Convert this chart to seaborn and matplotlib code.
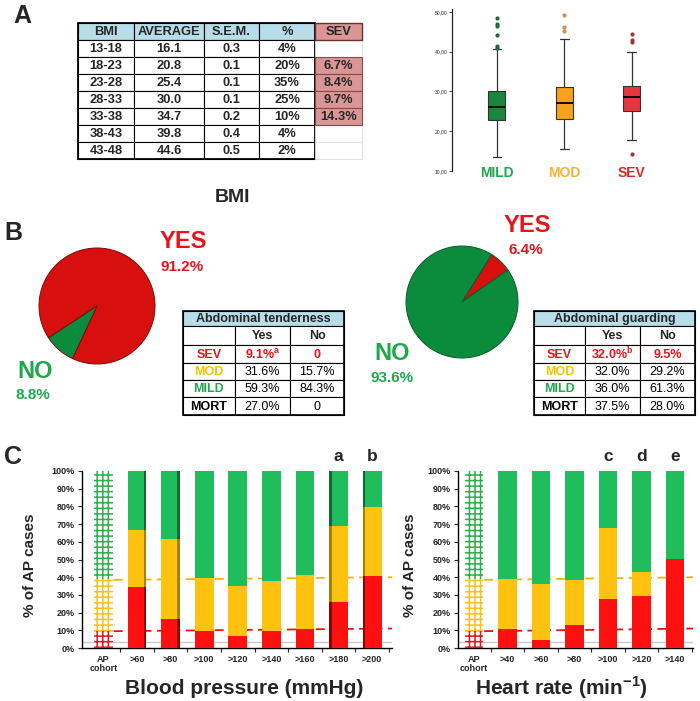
import numpy as np
import pandas as pd
import matplotlib
matplotlib.use('Agg')
import matplotlib.pyplot as plt
from matplotlib.patches import Rectangle
import seaborn as sns

sns.set_style('white')
plt.rcParams['font.family'] = ['Liberation Sans', 'DejaVu Sans']
plt.rcParams['mathtext.fontset'] = 'custom'
plt.rcParams['mathtext.rm'] = 'Liberation Sans'
plt.rcParams['mathtext.bf'] = 'Liberation Sans:bold'
plt.rcParams['hatch.linewidth'] = 1.1

# ---- panel A: BMI table ----
bmi_head = ['BMI', 'AVERAGE', 'S.E.M.', '%', 'SEV']
bmi_ranges = ['13-18', '18-23', '23-28', '28-33', '33-38', '38-43', '43-48']
bmi_average = ['16.1', '20.8', '25.4', '30.0', '34.7', '39.8', '44.6']
bmi_sem = ['0.3', '0.1', '0.1', '0.1', '0.2', '0.4', '0.5']
bmi_pct = ['4%', '20%', '35%', '25%', '10%', '4%', '2%']
bmi_sev = ['', '6.7%', '8.4%', '9.7%', '14.3%', '', '']

# ---- panel A: BMI boxplots ----
box_groups = ['MILD', 'MOD', 'SEV']
box_whislo = [13.5, 15.6, 17.7]
box_q1 = [22.9, 23.2, 25.0]
box_med = [26.1, 27.2, 28.7]
box_q3 = [30.1, 31.1, 31.3]
box_whishi = [40.6, 43.2, 39.9]
box_fliers = [[41.0, 41.5, 44.3, 46.4, 47.1, 48.4],
              [45.2, 46.2, 49.2],
              [14.4, 42.5, 43.0, 44.4]]

# ---- panel B: pies + tables ----
tender_share = [91.2, 8.8]   # YES, NO
guard_share = [6.4, 93.6]    # YES, NO
sev_rows = ['SEV', 'MOD', 'MILD', 'MORT']
tender_yes = ['9.1%$^{\\mathbf{a}}$', '31.6%', '59.3%', '27.0%']
tender_no = ['0', '15.7%', '84.3%', '0']
guard_yes = ['32.0%$^{\\mathbf{b}}$', '32.0%', '36.0%', '37.5%']
guard_no = ['9.5%', '29.2%', '61.3%', '28.0%']

# ---- panel C: stacked bars ----
bp_cats = ['AP\ncohort', '>60', '>80', '>100', '>120', '>140', '>160', '>180', '>200']
bp_sev = [9.5, 34.2, 16.5, 9.4, 6.6, 9.8, 10.5, 25.9, 40.4]
bp_mod = [29.5, 32.5, 45.1, 30.4, 28.2, 27.8, 30.9, 43.1, 39.5]
bp_mild = [61.0, 33.3, 38.4, 60.2, 65.2, 62.4, 58.6, 31.0, 20.1]
bp_marks = ['', '', '', '', '', '', '', 'a', 'b']
bp_ref_sev = [9.5, 11.0]
bp_ref_mod = [38.5, 40.0]
bp_side = ['', 'r', 'r', '', '', '', '', 'l', 'l']   # visible 3D side of each bar

hr_cats = ['AP\ncohort', '>40', '>60', '>80', '>100', '>120', '>140']
hr_sev = [9.5, 10.7, 4.7, 12.8, 27.6, 29.1, 50.2]
hr_mod = [29.5, 28.4, 31.6, 25.7, 40.1, 14.1, 0.0]
hr_mild = [61.0, 60.9, 63.7, 61.5, 32.3, 56.8, 49.8]
hr_marks = ['', '', '', '', 'c', 'd', 'e']
hr_ref_sev = [9.5, 11.0]
hr_ref_mod = [38.5, 40.0]
hr_side = ['', '', '', '', '', '', '']

RED = '#ff1010'
YEL = '#ffc20e'
GRN = '#1fbd5c'
TXT_RED = '#e8141c'
TXT_YEL = '#f5c400'
TXT_GRN = '#1fa84a'
BLUE_HEAD = '#b7dde8'
PINK = '#d99694'

fig = plt.figure(figsize=(7, 7.01), dpi=100)
bg = fig.add_axes([0, 0, 1, 1])
bg.set_xlim(0, 700)
bg.set_ylim(701, 0)
bg.axis('off')


def px_rect(x0, y0, x1, y1):
    return [x0 / 700, 1 - y1 / 701, (x1 - x0) / 700, (y1 - y0) / 701]


def cell(x0, y0, x1, y1, fc='white', ec='black', lw=0.8):
    bg.add_patch(Rectangle((x0, y0), x1 - x0, y1 - y0, facecolor=fc,
                           edgecolor=ec, linewidth=lw))


def ctext(x, y, s, **kw):
    bg.text(x, y, s, ha='center', va='center', **kw)


# panel letters
ctext(22, 16, 'A', fontsize=18, fontweight='bold')
ctext(13, 233, 'B', fontsize=18, fontweight='bold')
ctext(13, 457, 'C', fontsize=18, fontweight='bold')

# ---- table A ----
col_x = [78, 134, 204, 259, 315, 362]
row_y = [23] + list(np.linspace(39.5, 159.2, 8))
body = [bmi_ranges, bmi_average, bmi_sem, bmi_pct]
for j in range(4):
    cell(col_x[j], row_y[0], col_x[j + 1], row_y[1], fc=BLUE_HEAD)
    ctext((col_x[j] + col_x[j + 1]) / 2, (row_y[0] + row_y[1]) / 2 + 0.5,
          bmi_head[j], fontsize=9.3, fontweight='bold')
    for i in range(7):
        cell(col_x[j], row_y[i + 1], col_x[j + 1], row_y[i + 2])
        ctext((col_x[j] + col_x[j + 1]) / 2, (row_y[i + 1] + row_y[i + 2]) / 2 + 0.5,
              body[j][i], fontsize=9.3, fontweight='bold')
bg.add_patch(Rectangle((col_x[0], row_y[0]), col_x[4] - col_x[0], row_y[-1] - row_y[0],
                       fill=False, edgecolor='black', linewidth=1.3))
for i in range(7):
    if bmi_sev[i] == '':
        cell(col_x[4], row_y[i + 1], col_x[5], row_y[i + 2], ec='#dcdcdc', lw=0.6)
for i in range(7):
    if bmi_sev[i] != '':
        cell(col_x[4], row_y[i + 1], col_x[5], row_y[i + 2], fc=PINK, ec='#8a4a4a', lw=0.8)
        ctext((col_x[4] + col_x[5]) / 2, (row_y[i + 1] + row_y[i + 2]) / 2 + 0.5,
              bmi_sev[i], fontsize=9.3, fontweight='bold')
cell(col_x[4], row_y[0], col_x[5], row_y[1], fc=PINK, ec='#6a3030', lw=1.0)
ctext((col_x[4] + col_x[5]) / 2, (row_y[0] + row_y[1]) / 2 + 0.5, bmi_head[4],
      fontsize=9.3, fontweight='bold')
ctext(232, 197, 'BMI', fontsize=14, fontweight='bold')

# ---- boxplot A ----
axb = fig.add_axes(px_rect(452, 9, 672, 171))
stats = [dict(label=g, whislo=wl, q1=a, med=m, q3=b, whishi=wh, fliers=f)
         for g, wl, a, m, b, wh, f in zip(box_groups, box_whislo, box_q1, box_med,
                                          box_q3, box_whishi, box_fliers)]
res = axb.bxp(stats, positions=[1, 2, 3], widths=0.25, capwidths=0.13, patch_artist=True,
              boxprops=dict(edgecolor='#333333', linewidth=0.8),
              medianprops=dict(color='black', linewidth=1.3),
              whiskerprops=dict(color='#333333', linewidth=0.9),
              capprops=dict(color='#333333', linewidth=0.9),
              flierprops=dict(marker='o', markersize=3, markeredgewidth=0))
box_colors = ['#17873e', '#f7a21b', '#e8353b']
flier_colors = ['#1c6b3a', '#c8944a', '#a83232']
label_colors = ['#22a84b', '#f9b233', '#e52329']
for patch, c in zip(res['boxes'], box_colors):
    patch.set_facecolor(c)
for fl, c in zip(res['fliers'], flier_colors):
    fl.set_markerfacecolor(c)
axb.set_xlim(0.333, 3.6)
axb.set_ylim(10, 50.75)
axb.set_xticks([])
yt = [10, 20, 30, 40, 50]
axb.set_yticks(yt)
axb.set_yticklabels([f'{v:.2f}'.replace('.', ',') for v in yt], fontsize=3.6)
axb.tick_params(axis='y', length=2, width=0.6, pad=1, left=True)
sns.despine(ax=axb, bottom=True)
axb.spines['left'].set_linewidth(0.9)
for k, (g, c) in enumerate(zip(box_groups, label_colors)):
    axb.text(k + 1, 9.5, g, ha='center', va='center', color=c, fontsize=10,
             fontweight='bold', clip_on=False)

# ---- pies B ----
def pie(cx, cy, r, shares, start, ec):
    side = 2 * r * 1.03
    ax = fig.add_axes(px_rect(cx - side / 2, cy - side / 2, cx + side / 2, cy + side / 2))
    ax.pie(shares, colors=['#d80f0f', '#0b8c3c'], startangle=start, counterclock=True,
           wedgeprops=dict(edgecolor=ec, linewidth=0.7))
    ax.set_xlim(-1.03, 1.03)
    ax.set_ylim(-1.03, 1.03)
    ax.axis('off')


pie(97, 306, 58, tender_share, 245, '#7a0a0a')
pie(462, 302, 56, guard_share, 35, '#0a5a2a')

ctext(183, 241, 'YES', fontsize=17, fontweight='bold', color=TXT_RED)
ctext(182, 267, f'{tender_share[0]}%', fontsize=11, fontweight='bold', color=TXT_RED)
ctext(35, 372, 'NO', fontsize=17, fontweight='bold', color=TXT_GRN)
ctext(33, 395, f'{tender_share[1]}%', fontsize=11, fontweight='bold', color=TXT_GRN)
ctext(527, 225, 'YES', fontsize=17, fontweight='bold', color=TXT_RED)
ctext(526, 250, f'{guard_share[0]}%', fontsize=11, fontweight='bold', color=TXT_RED)
ctext(392, 353, 'NO', fontsize=17, fontweight='bold', color=TXT_GRN)
ctext(392, 378, f'{guard_share[1]}%', fontsize=11, fontweight='bold', color=TXT_GRN)

# ---- tables B ----
row_cols = [TXT_RED, TXT_YEL, TXT_GRN, 'black']


def sign_table(x_edges, title, yes_vals, no_vals):
    ys = [311, 326, 345, 363, 380, 397, 415]
    cell(x_edges[0], ys[0], x_edges[3], ys[1], fc=BLUE_HEAD)
    ctext((x_edges[0] + x_edges[3]) / 2, (ys[0] + ys[1]) / 2 + 0.5, title,
          fontsize=9, fontweight='bold')
    for j in range(3):
        for i in range(1, 6):
            cell(x_edges[j], ys[i], x_edges[j + 1], ys[i + 1])
    ctext((x_edges[1] + x_edges[2]) / 2, (ys[1] + ys[2]) / 2 + 0.5, 'Yes',
          fontsize=9, fontweight='bold')
    ctext((x_edges[2] + x_edges[3]) / 2, (ys[1] + ys[2]) / 2 + 0.5, 'No',
          fontsize=9, fontweight='bold')
    for i, (lab, c) in enumerate(zip(sev_rows, row_cols)):
        yc = (ys[i + 2] + ys[i + 3]) / 2 + 0.5
        ctext((x_edges[0] + x_edges[1]) / 2, yc, lab, fontsize=9, fontweight='bold', color=c)
        w = 'bold' if i == 0 else 'normal'
        vc = TXT_RED if i == 0 else 'black'
        ctext((x_edges[1] + x_edges[2]) / 2, yc, yes_vals[i], fontsize=9, fontweight=w, color=vc)
        ctext((x_edges[2] + x_edges[3]) / 2, yc, no_vals[i], fontsize=9, fontweight=w, color=vc)
    bg.add_patch(Rectangle((x_edges[0], ys[0]), x_edges[3] - x_edges[0], ys[-1] - ys[0],
                           fill=False, edgecolor='black', linewidth=1.2))


sign_table([183, 235, 290, 344], 'Abdominal tenderness', tender_yes, tender_no)
sign_table([534, 585, 640, 695], 'Abdominal guarding', guard_yes, guard_no)

# ---- panel C ----
dark_of = {GRN: '#0d6a33', YEL: '#a88000', RED: '#8e0000'}


def stacked(rect, xlim, cats, sev, mod, mild, marks, ref_sev, ref_mod, sides):
    ax = fig.add_axes(px_rect(*rect))
    df = pd.DataFrame({'cat': cats, 'sev': sev, 'mod': mod, 'mild': mild})
    df['low'] = df['sev'] + df['mod']
    df['all'] = df['low'] + df['mild']
    n = len(cats)
    layers = [('all', GRN, '#2bb04c'), ('low', YEL, '#f7c21a'), ('sev', RED, '#e8141c')]
    for col, fc, hc in layers:
        sns.barplot(data=df, x='cat', y=col, order=cats, color=fc, width=0.56,
                    saturation=1, errorbar=None, linewidth=0, ax=ax, zorder=3)
        bars = list(ax.patches)[-n:]
        ap = bars[0]
        ap.set_facecolor('white')
        ap.set_hatch('+++')
        ap.set_edgecolor(hc)
        ap.set_linewidth(0)
        # darker side face for the bars seen in perspective
        for b, sd in zip(bars, sides):
            if not sd:
                continue
            sw = 0.08
            x0 = b.get_x() + b.get_width() - sw if sd == 'r' else b.get_x()
            ax.add_patch(Rectangle((x0, 0), sw, b.get_height(), facecolor=dark_of[fc],
                                   linewidth=0, zorder=3))
    ax.set_xlim(*xlim)
    ax.set_ylim(0, 100)
    ax.axhline(3.5, color='#c8c8c8', linewidth=1.0, zorder=0.5)
    ax.plot([0.3, xlim[1]], ref_mod, color='#f5b400', linestyle=(0, (5, 3)),
            linewidth=1.3, zorder=1)
    ax.plot([0.3, xlim[1]], ref_sev, color='#e81010', linestyle=(0, (5, 3)),
            linewidth=1.3, zorder=1)
    for k, m in enumerate(marks):
        if m:
            ax.text(k, 108, m, ha='center', va='center', fontsize=12.5,
                    fontweight='bold', clip_on=False)
    ax.set_yticks(range(0, 101, 10))
    ax.set_yticklabels([f'{v}%' for v in range(0, 101, 10)], fontsize=6.5, fontweight='bold')
    ax.set_xticks(range(n))
    ax.set_xticklabels(cats, fontsize=6.5, fontweight='bold', linespacing=1.0)
    ax.set_xticks(np.arange(n) + 0.5, minor=True)
    ax.tick_params(axis='x', which='major', length=0, pad=5)
    ax.tick_params(axis='x', which='minor', length=3, width=0.8, bottom=True)
    ax.tick_params(axis='y', length=3, width=0.8, pad=2, left=True)
    ax.set_xlabel('')
    ax.set_ylabel('')
    sns.despine(ax=ax)
    for s in ['left', 'bottom']:
        ax.spines[s].set_color('black')
        ax.spines[s].set_linewidth(1.0)
    return ax


stacked((82, 471, 392, 648), (-0.64, 8.59), bp_cats, bp_sev, bp_mod, bp_mild,
        bp_marks, bp_ref_sev, bp_ref_mod, bp_side)
stacked((458, 471, 693, 648), (-0.48, 6.54), hr_cats, hr_sev, hr_mod, hr_mild,
        hr_marks, hr_ref_sev, hr_ref_mod, hr_side)

ctext(30, 565, '% of AP cases', fontsize=11, fontweight='bold', rotation=90)
ctext(410, 565, '% of AP cases', fontsize=11, fontweight='bold', rotation=90)
ctext(244, 688, 'Blood pressure (mmHg)', fontsize=15, fontweight='bold')
ctext(561, 688, 'Heart rate (min$^{\\mathbf{\\minus 1}}$)', fontsize=15, fontweight='bold')

fig.savefig('out.png', dpi=100)
